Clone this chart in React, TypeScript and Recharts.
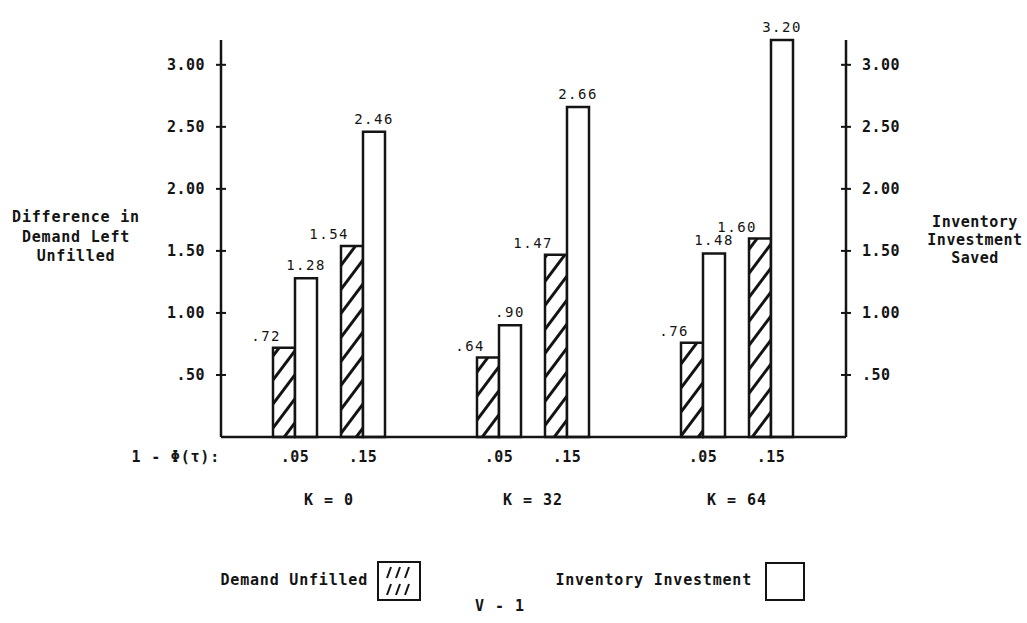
import React from 'react';
import { BarChart, Bar, XAxis, YAxis, LabelList } from 'recharts';

const phiLevels = ['.05', '.15'];
const kGroups = ['K = 0', 'K = 32', 'K = 64'];
// order: K=0 .05, K=0 .15, K=32 .05, K=32 .15, K=64 .05, K=64 .15
const demandUnfilled = [0.72, 1.54, 0.64, 1.47, 0.76, 1.6];
const inventorySaved = [1.28, 2.46, 0.9, 2.66, 1.48, 3.2];
const yTicks = [0.5, 1, 1.5, 2, 2.5, 3];
const seriesNames = ['Demand Unfilled', 'Inventory Investment'];
const leftTitle = ['Difference in', 'Demand Left', 'Unfilled'];
const rightTitle = ['Inventory', 'Investment', 'Saved'];

type Row = { id: string; phi: string; k: string; demand: number | null; inventory: number | null };

// an empty slot after each K group keeps the pairs apart
const rows: Row[] = [];
kGroups.forEach((k, g) => {
  phiLevels.forEach((phi, p) => {
    const i = g * phiLevels.length + p;
    rows.push({ id: `${k}|${phi}`, phi, k: p === 0 ? k : '', demand: demandUnfilled[i], inventory: inventorySaved[i] });
  });
  if (g < kGroups.length - 1) rows.push({ id: `gap${g}`, phi: '', k: '', demand: null, inventory: null });
});

const FONT = '"DejaVu Sans Mono", monospace';
const INK = '#141414';

const fmtTick = (v: number) => (v < 1 ? '.' + v.toFixed(2).slice(2) : v.toFixed(2));
const fmtValue = (v: number) => (v < 1 ? '.' + v.toFixed(2).slice(2) : v.toFixed(2));

const LeftTick = ({ x, y, payload }: any) => (
  <g>
    <line x1={x + 11} x2={x + 21} y1={y} y2={y} stroke={INK} strokeWidth={2} />
    <text x={x} y={y} dy={5} textAnchor="end" fontFamily={FONT} fontSize={15} fontWeight="bold" letterSpacing={0.5} fill={INK}>
      {fmtTick(payload.value)}
    </text>
  </g>
);

const RightTick = ({ x, y, payload }: any) => (
  <g>
    <line x1={x - 21} x2={x - 11} y1={y} y2={y} stroke={INK} strokeWidth={2} />
    <text x={x} y={y} dy={5} textAnchor="start" fontFamily={FONT} fontSize={15} fontWeight="bold" letterSpacing={0.5} fill={INK}>
      {fmtTick(payload.value)}
    </text>
  </g>
);

const CategoryTick = ({ x, y, payload }: any) => {
  const row = rows.find((r) => r.id === payload.value);
  if (!row || !row.phi) return null;
  const half = payload.offset || 34;
  return (
    <g>
      <text x={x} y={y + 25} textAnchor="middle" fontFamily={FONT} fontSize={15} fontWeight="bold" letterSpacing={0.5} fill={INK}>
        {row.phi}
      </text>
      {row.k && (
        <text x={x + half} y={y + 68} textAnchor="middle" fontFamily={FONT} fontSize={15} fontWeight="bold" letterSpacing={1} fill={INK}>
          {row.k}
        </text>
      )}
    </g>
  );
};

const DemandLabel = (props: any) => {
  const { x, y, value } = props;
  if (value == null) return null;
  return (
    <text x={Number(x) + 8} y={Number(y) - 7} textAnchor="end" fontFamily={FONT} fontSize={14} letterSpacing={1.5} fill={INK}>
      {fmtValue(value)}
    </text>
  );
};

const InventoryLabel = (props: any) => {
  const { x, y, width, value } = props;
  if (value == null) return null;
  return (
    <text x={Number(x) + Number(width) / 2} y={Number(y) - 8} textAnchor="middle" fontFamily={FONT} fontSize={14} letterSpacing={1.5} fill={INK}>
      {fmtValue(value)}
    </text>
  );
};

const textStyle = { fontFamily: FONT, fontSize: 15, fontWeight: 'bold' as const, fill: INK };

export default function App() {
  return (
    <div style={{ position: 'absolute', left: 0, top: 0, width: 1027, height: 623, background: '#fff' }}>
      <BarChart
        width={1027}
        height={623}
        data={rows}
        margin={{ top: 40, right: 0, bottom: 0, left: 0 }}
        barGap={0}
        barSize={22}
      >
        <defs>
          <pattern id="hatch" patternUnits="userSpaceOnUse" width={18} height={24}>
            <rect x={0} y={0} width={18} height={24} fill="#fff" />
            <path d="M0,24 L18,0 M-9,12 L9,-12 M9,36 L27,12" stroke={INK} strokeWidth={3} />
          </pattern>
        </defs>
        <XAxis
          dataKey="id"
          interval={0}
          height={186}
          padding={{ left: 40, right: 41 }}
          axisLine={{ stroke: INK, strokeWidth: 2.5 }}
          tickLine={false}
          tickSize={0}
          tickMargin={0}
          tick={<CategoryTick />}
        />
        <YAxis
          yAxisId="left"
          width={221}
          domain={[0, 3.2]}
          ticks={yTicks}
          axisLine={{ stroke: INK, strokeWidth: 2.5 }}
          tickLine={false}
          tickSize={0}
          tickMargin={16}
          tick={<LeftTick />}
        />
        <YAxis
          yAxisId="right"
          orientation="right"
          width={181}
          domain={[0, 3.2]}
          ticks={yTicks}
          axisLine={{ stroke: INK, strokeWidth: 2.5 }}
          tickLine={false}
          tickSize={0}
          tickMargin={16}
          tick={<RightTick />}
        />
        <Bar yAxisId="left" dataKey="demand" name={seriesNames[0]} fill="url(#hatch)" stroke={INK} strokeWidth={2.5} isAnimationActive={false}>
          <LabelList dataKey="demand" content={<DemandLabel />} />
        </Bar>
        <Bar yAxisId="right" dataKey="inventory" name={seriesNames[1]} fill="#fff" stroke={INK} strokeWidth={2.5} isAnimationActive={false}>
          <LabelList dataKey="inventory" content={<InventoryLabel />} />
        </Bar>
      </BarChart>

      <svg width={1027} height={623} style={{ position: 'absolute', left: 0, top: 0, pointerEvents: 'none' }}>
        {leftTitle.map((t, i) => (
          <text key={t} x={76} y={222 + i * 19.5} textAnchor="middle" letterSpacing={0.8} {...textStyle}>
            {t}
          </text>
        ))}
        {rightTitle.map((t, i) => (
          <text key={t} x={975} y={227 + i * 18} textAnchor="middle" letterSpacing={0.5} {...textStyle}>
            {t}
          </text>
        ))}
        <text x={220} y={462} textAnchor="end" letterSpacing={0.8} {...textStyle}>
          1 - Φ(τ):
        </text>

        {/* legend */}
        <text x={368} y={585} textAnchor="end" letterSpacing={0.8} {...textStyle}>
          {seriesNames[0]}
        </text>
        <rect x={378} y={562} width={42} height={38} fill="#fff" stroke={INK} strokeWidth={2} />
        {[0, 1].map((r) =>
          [0, 1, 2].map((c) => (
            <line
              key={`${r}-${c}`}
              x1={387 + c * 9}
              y1={578 + r * 17}
              x2={391 + c * 9}
              y2={567 + r * 17}
              stroke={INK}
              strokeWidth={2}
            />
          ))
        )}
        <text x={752} y={585} textAnchor="end" letterSpacing={0.8} {...textStyle}>
          {seriesNames[1]}
        </text>
        <rect x={766} y={563} width={38} height={37} fill="#fff" stroke={INK} strokeWidth={2} />

        <text x={500} y={611} textAnchor="middle" letterSpacing={1} {...textStyle}>
          V - 1
        </text>
      </svg>
    </div>
  );
}
